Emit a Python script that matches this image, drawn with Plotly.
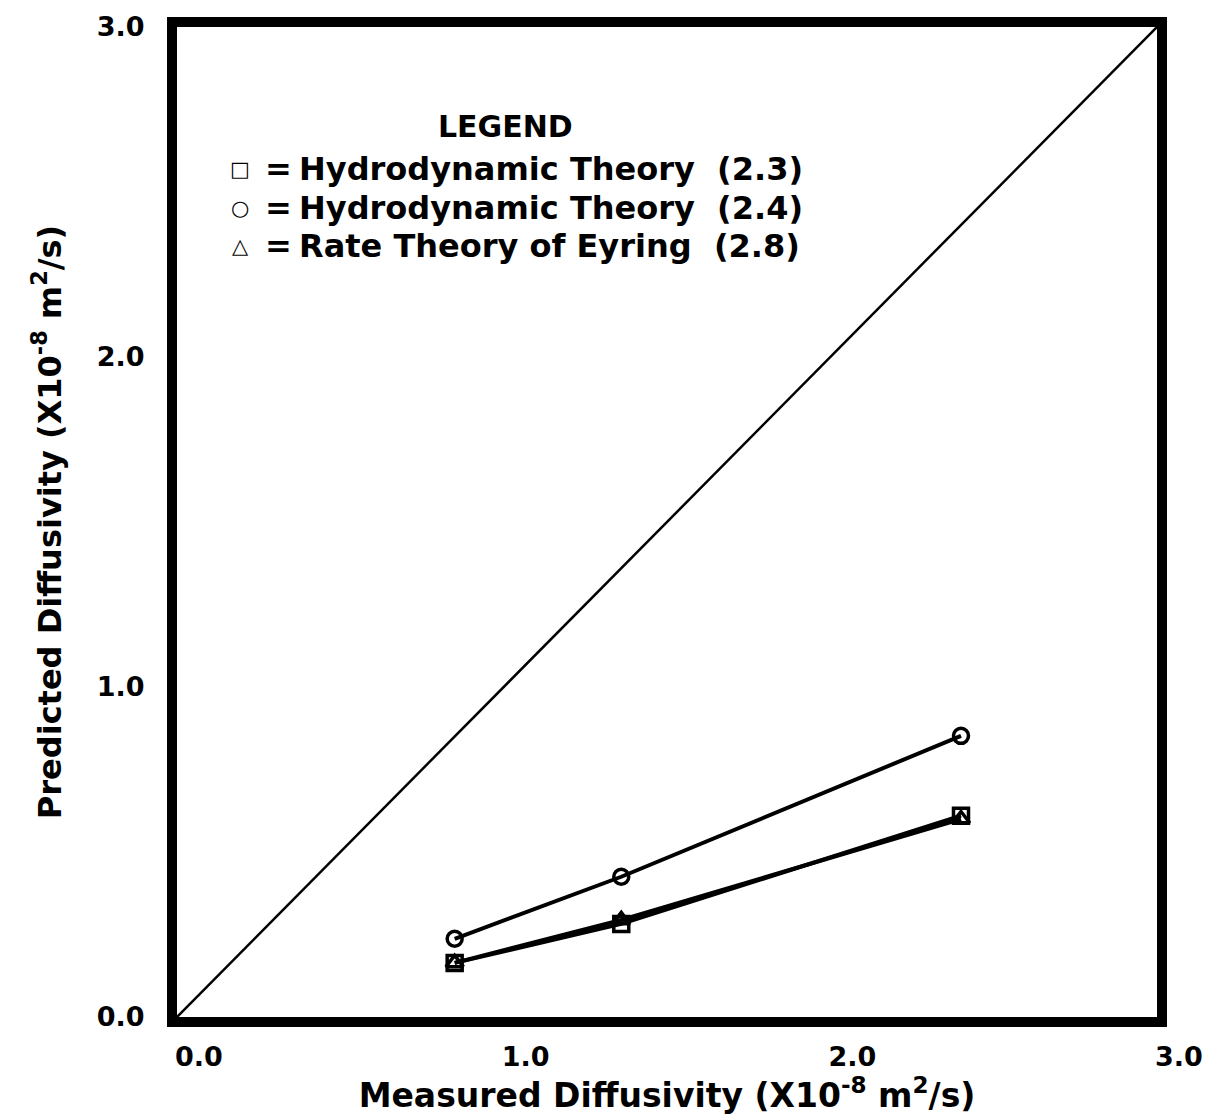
import plotly.graph_objects as go

# Measured diffusivity (x10^-8 m^2/s) for the three test cases
measured = [0.85, 1.36, 2.40]

# Predicted diffusivity from each model (x10^-8 m^2/s)
hydro_23 = [0.164, 0.282, 0.610]
hydro_24 = [0.237, 0.425, 0.852]
eyring_28 = [0.164, 0.294, 0.600]

series_names = ["Hydrodynamic Theory  (2.3)",
                "Hydrodynamic Theory  (2.4)",
                "Rate Theory of Eyring  (2.8)"]
series_values = [hydro_23, hydro_24, eyring_28]
series_symbols = ["square-open", "circle-open", "triangle-up-open"]
legend_glyphs = ["□", "○", "△"]

tick_vals = [0, 1, 2, 3]
tick_text = ["0.0", "1.0", "2.0", "3.0"]

FONT = "DejaVu Sans"
W, H = 1212, 1117
L, R, T, B = 177, 55, 27, 100

fig = go.Figure()

# 1:1 reference line
fig.add_trace(go.Scatter(x=[0, 3], y=[0, 3], mode="lines",
                         line=dict(color="black", width=2.5),
                         hoverinfo="skip", showlegend=False))

for name, vals, sym in zip(series_names, series_values, series_symbols):
    fig.add_trace(go.Scatter(
        x=measured, y=vals, mode="lines+markers", name=name,
        line=dict(color="black", width=4),
        marker=dict(symbol=sym, size=15, color="black",
                    line=dict(color="black", width=3.5)),
        showlegend=False))

# Legend block drawn as text
def px_to_paper(px, py):
    return (px - L) / (W - L - R), (H - B - py) / (H - T - B)

annotations = []
x, y = px_to_paper(505, 127)
annotations.append(dict(x=x, y=y, xref="paper", yref="paper", text="LEGEND",
                        showarrow=False, xanchor="center", yanchor="middle",
                        font=dict(family=FONT, size=30, color="black", weight="bold")))
row_y = [169, 208, 246]
for glyph, name, py in zip(legend_glyphs, series_names, row_y):
    gx, gy = px_to_paper(240, py)
    annotations.append(dict(x=gx, y=gy, xref="paper", yref="paper", text=glyph,
                            showarrow=False, xanchor="center", yanchor="middle",
                            font=dict(family=FONT, size=21, color="black", weight="bold")))
    ex, ey = px_to_paper(278, py)
    annotations.append(dict(x=ex, y=ey, xref="paper", yref="paper", text="=",
                            showarrow=False, xanchor="center", yanchor="middle",
                            font=dict(family=FONT, size=32, color="black", weight="bold")))
    tx, ty = px_to_paper(297, py)
    annotations.append(dict(x=tx, y=ty, xref="paper", yref="paper", text=name,
                            showarrow=False, xanchor="left", yanchor="middle",
                            font=dict(family=FONT, size=32, color="black", weight="bold")))

axis_common = dict(range=[0, 3], tickvals=tick_vals, ticktext=tick_text,
                   showgrid=False, zeroline=False, ticks="", automargin=False,
                   showline=True, linecolor="black", linewidth=10, mirror=True,
                   tickfont=dict(family=FONT, size=27, color="black", weight="bold"))

fig.update_layout(
    width=W, height=H,
    margin=dict(l=L, r=R, t=T, b=B),
    paper_bgcolor="white", plot_bgcolor="white",
    xaxis=dict(**axis_common, ticklabelshift=22, ticklabelstandoff=7,
               title=dict(text="Measured Diffusivity (X10<sup>-8</sup> m<sup>2</sup>/s)",
                          font=dict(family=FONT, size=33, color="black", weight="bold"),
                          standoff=10)),
    yaxis=dict(**axis_common, ticklabelstandoff=17,
               title=dict(text="Predicted Diffusivity (X10<sup>-8</sup> m<sup>2</sup>/s)",
                          font=dict(family=FONT, size=32, color="black", weight="bold"),
                          standoff=30)),
    annotations=annotations,
)

fig.write_html("out.html")
